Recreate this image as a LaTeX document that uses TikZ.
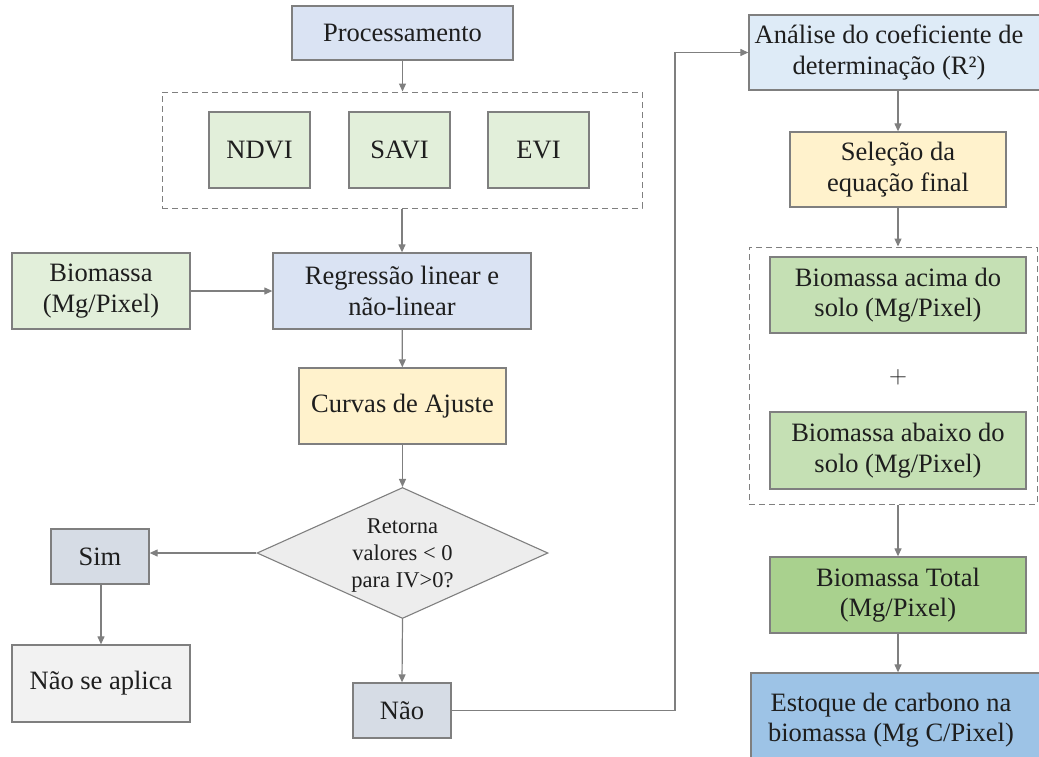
\documentclass[tikz,border=0pt]{standalone}
\usepackage{fontspec}
\setmainfont{Liberation Serif}
\newfontfamily\tnr{Liberation Serif}
\usetikzlibrary{arrows.meta,shapes.geometric}
\definecolor{lineg}{HTML}{7F7F7F}
\definecolor{txt}{HTML}{1E1E1E}
\definecolor{cblue}{HTML}{DAE3F3}
\definecolor{cgreen}{HTML}{E2EFDA}
\definecolor{cyellow}{HTML}{FFF2CC}
\definecolor{cgray}{HTML}{EDEDED}
\definecolor{cgray2}{HTML}{F2F2F2}
\definecolor{cslate}{HTML}{D6DCE5}
\definecolor{clblue}{HTML}{DEEBF7}
\definecolor{cgreen2}{HTML}{C5E0B4}
\definecolor{cgreen3}{HTML}{A9D18E}
\definecolor{cblue2}{HTML}{9DC3E6}
\tikzset{
  box/.style={draw=lineg, line width=1.3pt, rectangle, inner sep=0pt, align=center,
    text=txt, font=\tnr\fontsize{26.5}{30.5}\selectfont},
  grp/.style={draw=lineg, line width=1pt, dash pattern=on 6pt off 4pt, rectangle, inner sep=0pt},
  arr/.style={draw=lineg, line width=1.2pt, -{Triangle[length=8pt,width=7pt]}},
}
\begin{document}
\begin{tikzpicture}[x=1pt,y=-1pt]
\useasboundingbox (0,0) rectangle (1039,756);
\clip (0,0) rectangle (1039,756);
% left column
\node[box, fill=cblue, minimum width=221pt, minimum height=54pt] (proc) at (402.5,33) {Processamento};
\node[grp, minimum width=480pt, minimum height=116pt] (g1) at (402,150) {};
\node[box, fill=cgreen, minimum width=101pt, minimum height=76pt] (ndvi) at (259.5,150) {NDVI};
\node[box, fill=cgreen, minimum width=101pt, minimum height=76pt] (savi) at (399.5,150) {SAVI};
\node[box, fill=cgreen, minimum width=101pt, minimum height=76pt] (evi) at (538.5,150) {EVI};
\node[box, fill=cgreen, minimum width=178pt, minimum height=76pt] (bio) at (101,291) {Biomassa\\(Mg/Pixel)};
\node[box, fill=cblue, minimum width=258pt, minimum height=76pt] (reg) at (402,291) {Regressão linear e\\não-linear};
\node[box, fill=cyellow, minimum width=207pt, minimum height=76pt] (curv) at (402.5,406) {Curvas de Ajuste};
\node[box, fill=cgray, shape=diamond, minimum width=291pt, minimum height=131pt, line width=1.1pt] (dia) at (402.5,553) {};
\node[align=center, text=txt, font=\tnr\fontsize{22.5}{27}\selectfont] (diat) at (402.5,556) {Retorna\\valores < 0\\para IV>0?};
\node[box, fill=cslate, minimum width=98pt, minimum height=55pt] (sim) at (100,556.5) {Sim};
\node[box, fill=cgray2, minimum width=178pt, minimum height=77pt] (nsa) at (101,683.5) {Não se aplica};
\node[box, fill=cslate, minimum width=98pt, minimum height=55pt] (nao) at (402,710.5) {Não};
% right column
\node[box, fill=clblue, minimum width=300pt, minimum height=75pt] (anal) at (899,52.5) {\hspace*{-10pt}Análise do coeficiente de\hspace*{10pt}\\\hspace*{-10pt}determinação (R²)\hspace*{10pt}};
\node[box, fill=cyellow, minimum width=216pt, minimum height=75pt] (sel) at (898,169.5) {Seleção da\\equação final};
\node[grp, minimum width=288pt, minimum height=257pt] (g2) at (893,375.5) {};
\node[box, fill=cgreen2, minimum width=256pt, minimum height=76pt] (acima) at (898,295) {Biomassa acima do\\solo (Mg/Pixel)};
\node[text=txt, inner sep=0pt, font=\fontsize{30}{30}\selectfont] (plus) at (898,377) {$+$};
\node[box, fill=cgreen2, minimum width=256pt, minimum height=77pt] (abaixo) at (898,450.5) {Biomassa abaixo do\\solo (Mg/Pixel)};
\node[box, fill=cgreen3, minimum width=256pt, minimum height=76pt] (total) at (898,595) {Biomassa Total\\(Mg/Pixel)};
\node[box, fill=cblue2, minimum width=296pt, minimum height=94pt] (est) at (899,720) {\hspace*{-8pt}Estoque de carbono na\hspace*{8pt}\\\hspace*{-8pt}biomassa (Mg C/Pixel)\hspace*{8pt}};
\coordinate (turn) at (675,52.5);
% connectors
\draw[arr] (proc) -- (proc |- g1.north);
\draw[arr] (g1.south -| reg) -- (reg.north);
\draw[arr] (bio) -- (reg);
\draw[arr] (reg) -- (curv);
\draw[arr] (curv) -- (dia.north);
\draw[arr] (dia.west) -- (sim.east |- dia.west);
\draw[arr] (sim.south -| nsa) -- (nsa.north);
\draw[arr] (dia.south) -- (nao.north);
\draw[arr] (nao.east) -| (turn) -- (anal.west);
\draw[arr] (anal.south -| sel) -- (sel.north);
\draw[arr] (sel) -- (sel |- g2.north);
\draw[arr] (g2.south -| total) -- (total.north);
\draw[arr] (total.south) -- (total.south |- est.north);
\end{tikzpicture}
\end{document}
